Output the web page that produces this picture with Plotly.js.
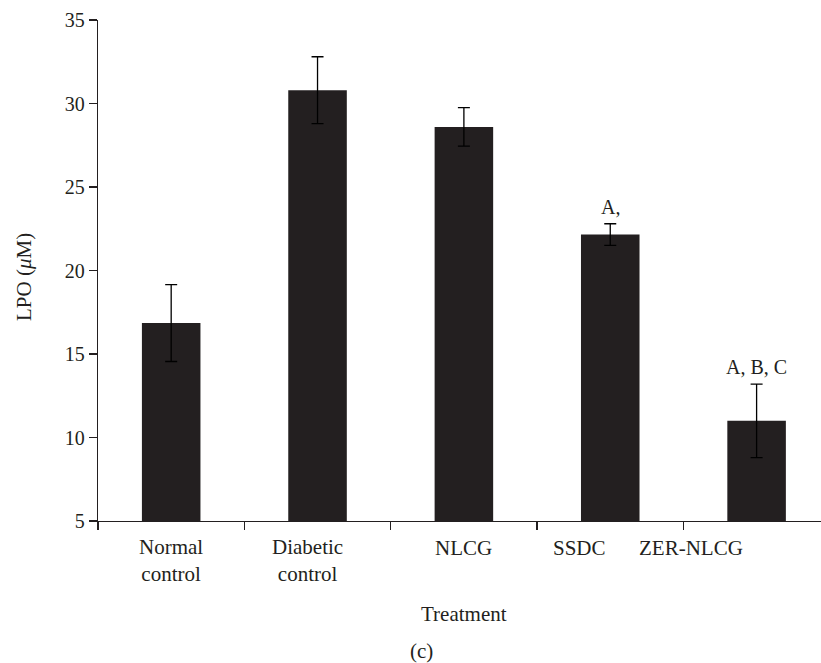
<!DOCTYPE html>
<html>
<head>
<meta charset="utf-8">
<script src="https://cdn.plot.ly/plotly-3.0.1.min.js"></script>
<style>html,body{margin:0;padding:0;background:#fff;}#chart{width:821px;height:663px;}</style>
</head>
<body>
<div id="chart"></div>
<script>
var categories = ["Normal control", "Diabetic control", "NLCG", "SSDC", "ZER-NLCG"];
var tickLabels = ["Normal<br>control", "Diabetic<br>control", "NLCG", "SSDC", "ZER-NLCG"];
var lpoMean = [16.85, 30.8, 28.6, 22.15, 11.0];
var lpoErr = [2.3, 2.0, 1.15, 0.65, 2.2];
var significance = ["", "", "", "A,", "A, B, C"];
var yTicks = [5, 10, 15, 20, 25, 30, 35];

var FONT = "Liberation Serif, Times New Roman, serif";
var INK = "#231f20";

var xIdx = categories.map(function(_, i){ return i; });
var labelOffset = [0.0, -0.07, 0.0, -0.21, -0.45];

// plot geometry helpers (pixel -> paper)
var M = {l: 98, r: 0, t: 20, b: 142};
var plotH = 663 - M.t - M.b, plotW = 821 - M.l - M.r;
function pyToPaper(py){ return (663 - M.b - py) / plotH; }
function pxToPaper(px){ return (px - M.l) / plotW; }

var annotations = [];
tickLabels.forEach(function(t, i){
  var twoLine = t.indexOf("<br>") >= 0;
  annotations.push({
    text: t, xref: "x", yref: "paper",
    x: xIdx[i] + labelOffset[i], y: pyToPaper(twoLine ? 560 : 548),
    xanchor: "center", yanchor: "middle", showarrow: false,
    font: {family: FONT, size: 21, color: INK}
  });
});
significance.forEach(function(s, i){
  if (!s) return;
  annotations.push({
    text: s, xref: "x", yref: "y",
    x: xIdx[i], y: lpoMean[i] + lpoErr[i],
    xanchor: "center", yanchor: "bottom", yshift: 4, showarrow: false,
    font: {family: FONT, size: 20, color: INK}
  });
});
annotations.push({
  text: "Treatment", xref: "paper", yref: "paper",
  x: pxToPaper(464), y: pyToPaper(614), xanchor: "center", yanchor: "middle",
  showarrow: false, font: {family: FONT, size: 21, color: INK}
});
annotations.push({
  text: "(c)", xref: "paper", yref: "paper",
  x: pxToPaper(421), y: pyToPaper(651), xanchor: "center", yanchor: "middle",
  showarrow: false, font: {family: FONT, size: 21, color: INK}
});
annotations.push({
  text: "LPO (<i>μ</i>M)", xref: "paper", yref: "paper",
  x: pxToPaper(24), y: pyToPaper(277), xanchor: "center", yanchor: "middle",
  textangle: -90, showarrow: false, font: {family: FONT, size: 21, color: INK}
});

var trace = {
  type: "bar", x: xIdx, y: lpoMean, width: 0.4,
  marker: {color: INK, line: {width: 0}},
  error_y: {type: "data", array: lpoErr, visible: true, color: "#000", thickness: 1.3, width: 6},
  hoverinfo: "none"
};

var layout = {
  width: 821, height: 663,
  margin: M,
  paper_bgcolor: "#fff", plot_bgcolor: "#fff",
  showlegend: false,
  font: {family: FONT, size: 20, color: INK},
  xaxis: {
    range: [-0.5, 4.44], showgrid: false, zeroline: false,
    showline: true, linecolor: INK, linewidth: 1.3,
    tickmode: "array", tickvals: [-0.5, 0.5, 1.5, 2.5, 3.5],
    ticks: "outside", ticklen: 8, tickwidth: 1.3, tickcolor: INK,
    showticklabels: false, fixedrange: true
  },
  yaxis: {
    range: [5, 35], showgrid: false, zeroline: false,
    showline: true, linecolor: INK, linewidth: 1.3,
    tickmode: "array", tickvals: yTicks, ticktext: yTicks.map(String),
    ticks: "outside", ticklen: 8, tickwidth: 1.3, tickcolor: INK,
    tickfont: {family: FONT, size: 20, color: INK}, fixedrange: true
  },
  annotations: annotations
};

Plotly.newPlot("chart", [trace], layout, {staticPlot: true, displayModeBar: false});
</script>
</body>
</html>
